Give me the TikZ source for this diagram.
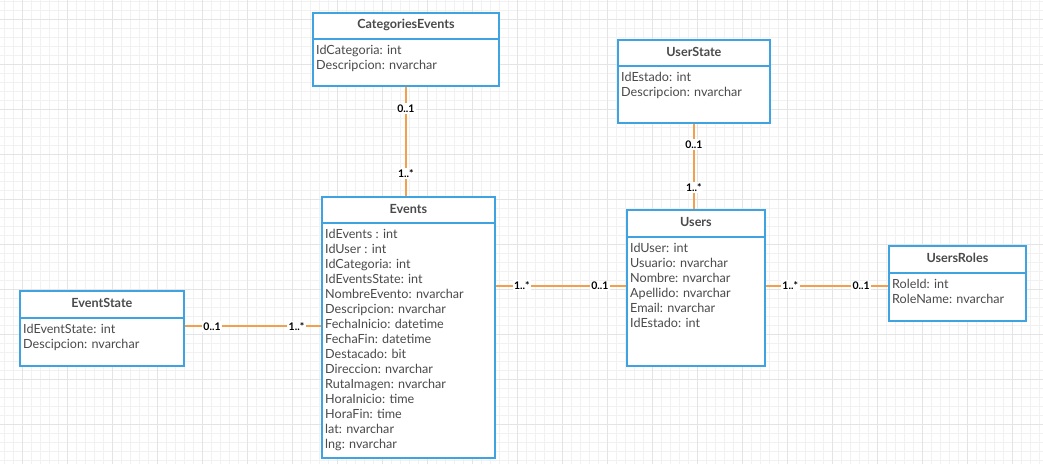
\documentclass[tikz,border=0pt]{standalone}
\usepackage{fontspec}
\setmainfont{Lato}
\usepackage{tikz}
\usetikzlibrary{positioning}
\usetikzlibrary{calc}
\definecolor{uml-blue}{HTML}{3FA3E1}
\definecolor{uml-orange}{HTML}{F2A04E}
\definecolor{uml-text}{HTML}{4A4A4A}
\definecolor{grid-light}{HTML}{F1F1F1}
\definecolor{grid-dark}{HTML}{E4E4E4}
\tikzset{
  entity-box/.style={draw=uml-blue, line width=1.8pt, fill=white, anchor=north west, inner sep=0pt},
  entity-line/.style={draw=uml-blue, line width=1.8pt},
  entity-title/.style={font=\fontsize{12.6}{14}\selectfont\bfseries, text=uml-text},
  entity-attrs/.style={anchor=north west, align=left, inner sep=3pt, font=\fontsize{12.6}{15}\selectfont, text=uml-text},
  relation-path/.style={draw=uml-orange, line width=2pt},
  relation-label/.style={fill=white, inner sep=1.5pt, font=\fontsize{10.5}{12}\selectfont\bfseries, text=black},
}
% name, x, y, width, height, header height, title, attributes
\newcommand{\tikzentity}[8]{%
\node[entity-box, minimum width=#4, minimum height=#5] (#1) at (#2,#3) {};
\draw[entity-line] ([yshift=-#6]#1.north west) -- ([yshift=-#6]#1.north east);
\node[entity-title] (#1-title) at ([yshift=-#6/2+1]#1.north) {#7};
\node[entity-attrs] (#1-attrs) at ([xshift=1, yshift=-#6-3]#1.north west) {#8};
}
\begin{document}
\begin{tikzpicture}[x=1pt, y=-1pt]
\useasboundingbox (0,0) rectangle (1043,464);
% background grid
\foreach \gx in {4,13,...,1043} \draw[grid-light] (\gx,0) -- (\gx,464);
\foreach \gy in {1,10,...,464} \draw[grid-light] (0,\gy) -- (1043,\gy);
\foreach \gx in {22,67,...,1043} \draw[grid-dark] (\gx,0) -- (\gx,464);
\foreach \gy in {19,64,...,464} \draw[grid-dark] (0,\gy) -- (1043,\gy);

% entities
\tikzentity{CategoriesEvents}{312}{12}{186}{73}{27}{CategoriesEvents}{IdCategoria: int\\Descripcion: nvarchar}
\tikzentity{UserState}{617}{39}{152}{83}{27}{UserState}{IdEstado: int\\Descripcion: nvarchar}
\tikzentity{Events}{321}{196}{173}{261}{27}{Events}{IdEvents : int\\IdUser : int\\IdCategoria: int\\IdEventsState: int\\NombreEvento: nvarchar\\Descripcion: nvarchar\\FechaInicio: datetime\\FechaFin: datetime\\Destacado: bit\\Direccion: nvarchar\\RutaImagen: nvarchar\\HoraInicio: time\\HoraFin: time\\lat: nvarchar\\lng: nvarchar}
\tikzentity{Users}{626}{209}{138}{156}{28}{Users}{IdUser: int\\Usuario: nvarchar\\Nombre: nvarchar\\Apellido: nvarchar\\Email: nvarchar\\IdEstado: int}
\tikzentity{UsersRoles}{888}{245}{137}{75}{28}{UsersRoles}{RoleId: int\\RoleName: nvarchar}
\tikzentity{EventState}{19}{290}{164}{75}{28}{EventState}{IdEventState: int\\Descipcion: nvarchar}

% relations
\draw[relation-path] (CategoriesEvents.south) -- (CategoriesEvents.south |- Events.north)
  node[relation-label, pos=0.2] {0..1} node[relation-label, pos=0.79] {1..*};
\draw[relation-path] (UserState.south) -- (UserState.south |- Users.north)
  node[relation-label, pos=0.24] {0..1} node[relation-label, pos=0.75] {1..*};
\draw[relation-path] ([yshift=2]EventState.east) -- ([yshift=2]EventState.east -| Events.west)
  node[relation-label, pos=0.2] {0..1} node[relation-label, pos=0.82] {1..*};
\draw[relation-path] ([yshift=2]Users.west -| Events.east) -- ([yshift=2]Users.west)
  node[relation-label, pos=0.2] {1..*} node[relation-label, pos=0.8] {0..1};
\draw[relation-path] ([yshift=2]Users.east) -- ([yshift=2]Users.east -| UsersRoles.west)
  node[relation-label, pos=0.2] {1..*} node[relation-label, pos=0.78] {0..1};
\end{tikzpicture}
\end{document}
